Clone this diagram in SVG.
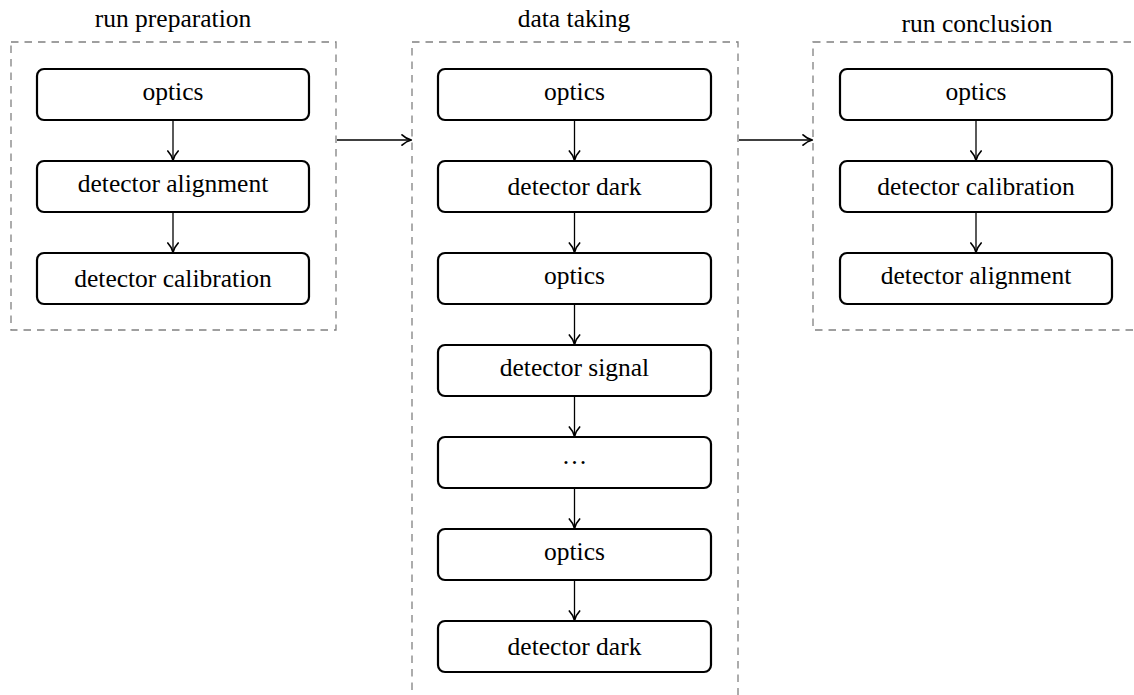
<svg xmlns="http://www.w3.org/2000/svg" width="1134" height="695" viewBox="0 0 1134 695">
<style>
.frame{fill:none;stroke:#808080;stroke-width:1.3;stroke-dasharray:7.5 6}
.box{fill:#fff;stroke:#000;stroke-width:2.2}
text{font-family:'Liberation Serif','DejaVu Serif',serif;font-size:25.5px;fill:#000;text-anchor:middle}
.e{fill:none;stroke:#000;stroke-width:1.3;marker-end:url(#ah)}
</style>
<defs>
<marker id="ah" markerUnits="userSpaceOnUse" markerWidth="16" markerHeight="14" viewBox="-10 -7 12 14" refX="0.5" refY="0" orient="auto" overflow="visible">
<path d="M -8.5 -5.2 C -5.5 -2.4 -2 -0.7 0.8 0 C -2 0.7 -5.5 2.4 -8.5 5.2" fill="none" stroke="#000" stroke-width="1.7" stroke-linecap="round" stroke-linejoin="round"/>
</marker>
</defs>
<g id="group-prep">
<rect class="frame" x="11" y="42" width="325" height="288"/>
<text x="173" y="26.5">run preparation</text>
</g>
<g id="group-data">
<rect class="frame" x="412" y="42" width="326" height="700"/>
<text x="574" y="26.5">data taking</text>
</g>
<g id="group-concl">
<rect class="frame" x="813" y="42" width="340" height="288"/>
<text x="977" y="31.5">run conclusion</text>
</g>
<g id="p1"><rect class="box" x="37" y="69" width="272" height="51" rx="7"/><text x="173" y="100">optics</text></g>
<g id="p2"><rect class="box" x="37" y="161" width="272" height="51" rx="7"/><text x="173" y="192">detector alignment</text></g>
<g id="p3"><rect class="box" x="37" y="253" width="272" height="51" rx="7"/><text x="173" y="287">detector calibration</text></g>
<g id="d1"><rect class="box" x="438" y="69" width="273" height="51" rx="7"/><text x="574.5" y="100">optics</text></g>
<g id="d2"><rect class="box" x="438" y="161" width="273" height="51" rx="7"/><text x="574.5" y="195">detector dark</text></g>
<g id="d3"><rect class="box" x="438" y="253" width="273" height="51" rx="7"/><text x="574.5" y="284">optics</text></g>
<g id="d4"><rect class="box" x="438" y="345" width="273" height="51" rx="7"/><text x="574.5" y="376">detector signal</text></g>
<g id="d5"><rect class="box" x="438" y="437" width="273" height="51" rx="7"/><text x="574.5" y="464">…</text></g>
<g id="d6"><rect class="box" x="438" y="529" width="273" height="51" rx="7"/><text x="574.5" y="560">optics</text></g>
<g id="d7"><rect class="box" x="438" y="621" width="273" height="51" rx="7"/><text x="574.5" y="655">detector dark</text></g>
<g id="c1"><rect class="box" x="840" y="69" width="272" height="51" rx="7"/><text x="976" y="100">optics</text></g>
<g id="c2"><rect class="box" x="840" y="161" width="272" height="51" rx="7"/><text x="976" y="195">detector calibration</text></g>
<g id="c3"><rect class="box" x="840" y="253" width="272" height="51" rx="7"/><text x="976" y="284">detector alignment</text></g>
<g id="connectors">
<line class="e" x1="173" y1="121" x2="173" y2="160"/>
<line class="e" x1="173" y1="213" x2="173" y2="252"/>
<line class="e" x1="574.5" y1="121" x2="574.5" y2="160"/>
<line class="e" x1="574.5" y1="213" x2="574.5" y2="252"/>
<line class="e" x1="574.5" y1="305" x2="574.5" y2="344"/>
<line class="e" x1="574.5" y1="397" x2="574.5" y2="436"/>
<line class="e" x1="574.5" y1="489" x2="574.5" y2="528"/>
<line class="e" x1="574.5" y1="581" x2="574.5" y2="620"/>
<line class="e" x1="976" y1="121" x2="976" y2="160"/>
<line class="e" x1="976" y1="213" x2="976" y2="252"/>
<line class="e" x1="337" y1="140" x2="411" y2="140"/>
<line class="e" x1="739" y1="140" x2="812" y2="140"/>
</g>
</svg>
